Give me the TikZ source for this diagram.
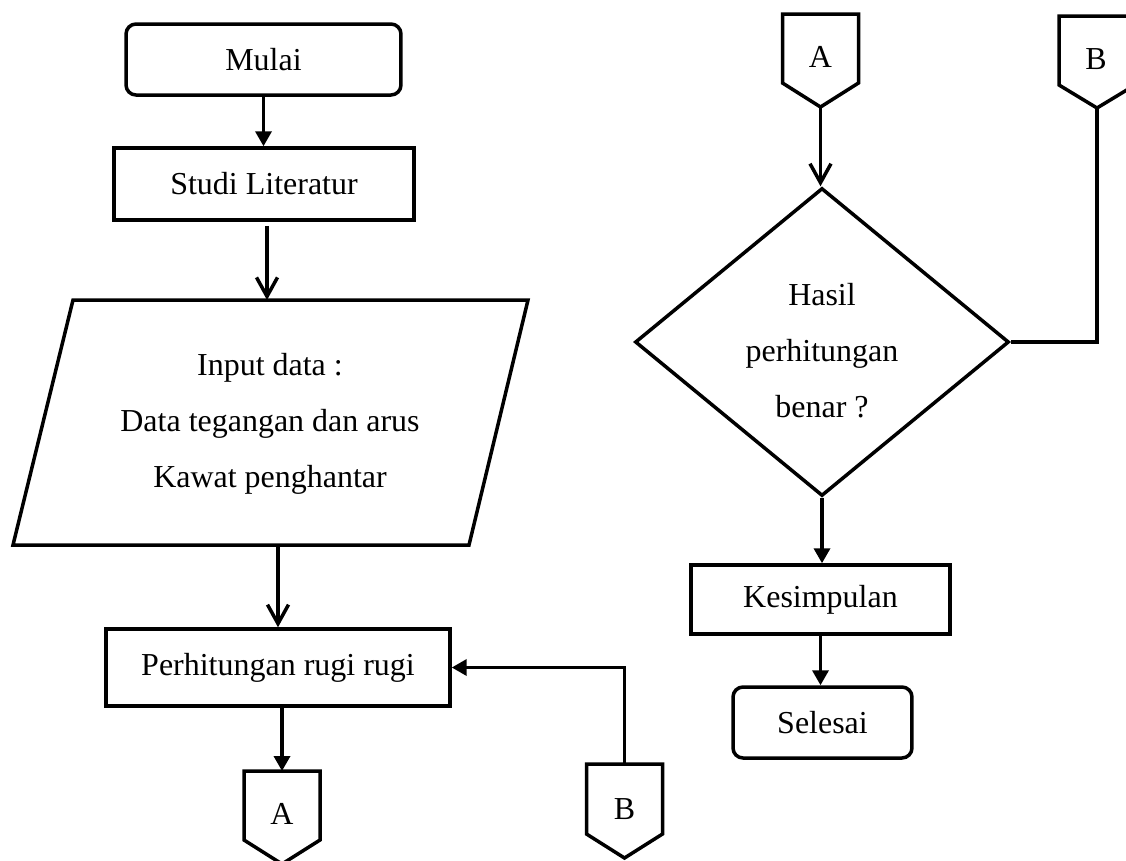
\documentclass[tikz,border=0pt]{standalone}
\usepackage{fontspec}
\setmainfont{Liberation Serif}
\usetikzlibrary{arrows.meta,shapes.geometric}
\begin{document}
\begin{tikzpicture}[x=0.02cm,y=-0.02cm,
  every node/.style={font=\fontsize{18.2}{31.9}\selectfont},
  ln/.style={line width=0.07cm},
  box/.style={draw, line width=0.07cm, rectangle, inner sep=0pt, align=center},
  term/.style={box, rounded corners=0.2cm},
  fa/.style={ln, -{Triangle[length=0.3cm,width=0.32cm]}},
  oa/.style={ln, -{Straight Barb[length=0.38cm,width=0.42cm]}},
  lbl/.style={inner sep=0pt, align=center},
  offpg/.style={ln, line join=miter}
]
\useasboundingbox (0,0) rectangle (1126,860);

% left column
\node[term, minimum width=5.5cm, minimum height=1.42cm] (mulai) at (263.5,59.5) {Mulai};
\node[box, minimum width=6cm, minimum height=1.44cm] (studi) at (264,184) {Studi Literatur};

\draw[ln, line join=miter] (73,300) -- (528,300) -- (469,545) -- (13,545) -- cycle;
\node[lbl] (inp) at (270,424) {Input data :\\Data tegangan dan arus\\Kawat penghantar};
\coordinate (inpT) at (267,300);
\coordinate (inpB) at (278,545);

\node[box, minimum width=6.88cm, minimum height=1.54cm] (perh) at (278,667.5) {Perhitungan rugi rugi};

% off-page connector A (bottom)
\draw[offpg] (244,771) -- (320,771) -- (320,840) -- (282,864) -- (244,840) -- cycle;
\node[lbl] (Ab) at (282,814) {A};
\coordinate (Abt) at (282,771);

% off-page connector B (bottom)
\draw[offpg] (586.5,764) -- (662.5,764) -- (662.5,834) -- (624.5,858) -- (586.5,834) -- cycle;
\node[lbl] (Bb) at (624.5,809) {B};
\coordinate (Bbt) at (624.5,764);

% right column
\draw[offpg] (782.5,14) -- (858.5,14) -- (858.5,83) -- (820.5,107) -- (782.5,83) -- cycle;
\node[lbl] (At) at (820.5,57) {A};
\coordinate (Att) at (820.5,107);

\draw[offpg] (1059,16) -- (1135,16) -- (1135,85) -- (1097,108) -- (1059,85) -- cycle;
\node[lbl] (Bt) at (1096,59) {B};
\coordinate (Btt) at (1097,108);

\node[draw, ln, diamond, inner sep=0pt, minimum width=7.48cm, minimum height=6.16cm] (dec) at (822,342) {};
\node[lbl] (dect) at (822,351) {Hasil\\perhitungan\\benar ?};

\node[box, minimum width=5.18cm, minimum height=1.38cm] (kes) at (820.5,599.5) {Kesimpulan};
\node[term, minimum width=3.58cm, minimum height=1.42cm] (sel) at (822.5,722.5) {Selesai};

% connectors
\draw[fa] (mulai.south) -- (mulai.south |- studi.north);
\draw[oa] ([yshift=-0.08cm]studi.south -| inpT) -- (inpT);
\draw[oa] (inpB) -- (inpB |- perh.north);
\draw[fa] (perh.south -| Abt) -- (Abt);
\draw[fa] (Bbt) |- (perh.east);

\draw[oa] (Att) -- (Att |- dec.north);
\draw[ln] (Btt) |- (dec.east);
\draw[fa] (dec.south) -- (dec.south |- kes.north);
\draw[fa] (kes.south) -- (kes.south |- sel.north);
\end{tikzpicture}
\end{document}
